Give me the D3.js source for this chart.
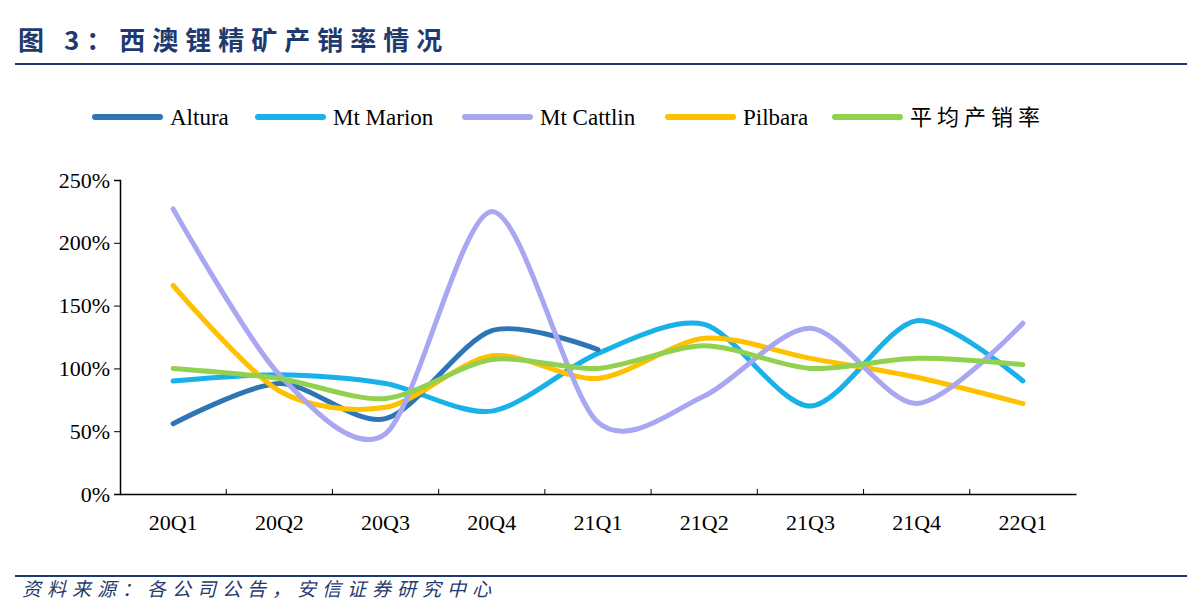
<!DOCTYPE html>
<html><head><meta charset="utf-8">
<script src="https://cdn.jsdelivr.net/npm/d3@7"></script>
<style>body{margin:0;background:#fff}</style></head>
<body><svg id="c" width="1187" height="605"></svg>
<script>
const categories=["20Q1","20Q2","20Q3","20Q4","21Q1","21Q2","21Q3","21Q4","22Q1"];
const altura=[56,88,60,130,115,null,null,null,null];
const mtMarion=[90,95,88,66,112,135,70,138,90];
const mtCattlin=[227,95,48,225,57,78,132,72,136];
const pilbara=[166,82,69,110,92,124,108,93,72];
const average=[100,92,76,107,100,118,100,108,103];
const yTicks=[0,50,100,150,200,250];
const series=[
 {name:"Altura",values:altura,color:"#2E75B6"},
 {name:"Mt Marion",values:mtMarion,color:"#18B1EA"},
 {name:"Mt Cattlin",values:mtCattlin,color:"#A9A6F2"},
 {name:"Pilbara",values:pilbara,color:"#FFC000"},
 {name:"平均产销率",values:average,color:"#92D050"}];
const svg=d3.select("#c");
const navy="#1F3A6E";
svg.append("text").attr("x",18).attr("y",50).attr("font-family","Noto Sans CJK SC").attr("font-weight","bold").attr("font-size",26).attr("letter-spacing",7).attr("fill",navy).text("图 3：西澳锂精矿产销率情况");
svg.append("line").attr("x1",15).attr("x2",1187).attr("y1",64).attr("y2",64).attr("stroke",navy).attr("stroke-width",2);
svg.append("line").attr("x1",15).attr("x2",1187).attr("y1",576).attr("y2",576).attr("stroke",navy).attr("stroke-width",2);
svg.append("text").attr("x",22).attr("y",596).attr("font-family","Noto Sans CJK SC").attr("font-style","italic").attr("font-size",19).attr("letter-spacing",6).attr("fill",navy).text("资料来源：各公司公告，安信证券研究中心");
const x=d3.scaleBand().domain(categories).range([120,1076]);
const y=d3.scaleLinear().domain([0,250]).range([494,180]);
const xa=svg.append("g").attr("transform","translate(0,494)").call(d3.axisBottom(x).tickSize(0).tickPadding(20));
xa.select(".domain").attr("stroke","#000").attr("stroke-width",1.5);
xa.selectAll("text").attr("font-family","Liberation Serif").attr("font-size",22).attr("fill","#000");
categories.slice(1).forEach(c=>svg.append("line").attr("x1",x(c)).attr("x2",x(c)).attr("y1",494).attr("y2",489).attr("stroke","#000"));
const ya=svg.append("g").attr("transform","translate(120,0)").call(d3.axisLeft(y).tickValues(yTicks).tickFormat(d=>d+"%").tickSize(6).tickPadding(4));
ya.select(".domain").attr("stroke","#000").attr("stroke-width",1.5);
ya.selectAll("text").attr("font-family","Liberation Serif").attr("font-size",22).attr("fill","#000");
const line=d3.line().defined(d=>d!=null).x((d,i)=>x(categories[i])+x.bandwidth()/2).y(d=>y(d)).curve(d3.curveCardinal.tension(0.15));
const order=[1,0,3,2,4];
order.forEach(k=>{const s=series[k];svg.append("path").attr("d",line(s.values)).attr("fill","none").attr("stroke",s.color).attr("stroke-width",5).attr("stroke-linecap","round");});
const lx=[95,258,465,668,835];
series.forEach((s,i)=>{
 svg.append("line").attr("x1",lx[i]).attr("x2",lx[i]+65).attr("y1",117).attr("y2",117).attr("stroke",s.color).attr("stroke-width",6).attr("stroke-linecap","round");
 svg.append("text").attr("x",lx[i]+75).attr("y",125).attr("font-family",i==4?"Noto Sans CJK SC":"Liberation Serif").attr("font-size",i==4?22:23).attr("letter-spacing",i==4?5:0).attr("fill","#000").text(s.name);
});
</script></body></html>
